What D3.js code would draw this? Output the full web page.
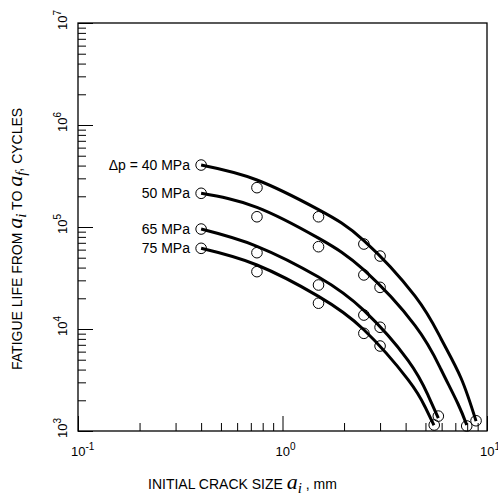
<!DOCTYPE html>
<html lang="en">
<head>
    <meta charset="UTF-8">
    <title>Fatigue life vs initial crack size</title>
    <script src="https://d3js.org/d3.v7.min.js"></script>
    <style>
        body { margin: 0; background: #fff; }
        text { font-family: "Liberation Sans", Arial, sans-serif; fill: #000; }
    </style>
</head>
<body>
    <script>
        //SVG dimensions and plot frame
        var w = 498;
        var h = 496;
        var plotLeft = 78, plotRight = 487, plotTop = 23, plotBottom = 431;

        //Test points (crack size in mm, life in cycles)
        var stressLabels = ["\u0394p = 40 MPa", "50 MPa", "65 MPa", "75 MPa"];
        var size40 = [0.4, 0.75, 1.5, 2.5, 3.0, 8.84];
        var life40 = [405000, 243000, 126000, 68100, 51900, 1260];
        var size50 = [0.4, 0.75, 1.5, 2.5, 3.0, 7.96];
        var life50 = [214000, 126000, 64100, 33900, 25600, 1120];
        var size65 = [0.4, 0.75, 1.5, 2.5, 3.0, 5.78];
        var life65 = [95500, 56000, 27000, 13700, 10400, 1400];
        var size75 = [0.4, 0.75, 1.5, 2.5, 3.0, 5.52];
        var life75 = [61800, 36500, 17900, 9070, 6810, 1145];

        //Fitted curves
        var fitSize40 = [0.4, 0.75, 1.5, 2.5, 4.45, 5.96, 7.46, 8.84];
        var fitLife40 = [405000, 289000, 148000, 73700, 21000, 8030, 3310, 1250];
        var fitSize50 = [0.4, 0.75, 1.5, 2.5, 4.45, 5.96, 7.21, 7.96];
        var fitLife50 = [214000, 156000, 77800, 37900, 10800, 4010, 1850, 1145];
        var fitSize65 = [0.4, 0.75, 1.5, 2.5, 4.11, 5.15, 5.78];
        var fitLife65 = [95500, 64700, 32300, 15200, 4930, 2240, 1340];
        var fitSize75 = [0.4, 0.75, 1.5, 2.5, 4.11, 4.98, 5.5];
        var fitLife75 = [61800, 42400, 20900, 9840, 3190, 1720, 1140];

        //Tick values
        var xDecades = [-1, 0, 1];
        var yDecades = [3, 4, 5, 6, 7];
        var minorSteps = [2, 3, 4, 5, 6, 7, 8, 9];

        var series = [
            { label: stressLabels[0], a: size40, n: life40, fa: fitSize40, fn: fitLife40 },
            { label: stressLabels[1], a: size50, n: life50, fa: fitSize50, fn: fitLife50 },
            { label: stressLabels[2], a: size65, n: life65, fa: fitSize65, fn: fitLife65 },
            { label: stressLabels[3], a: size75, n: life75, fa: fitSize75, fn: fitLife75 }
        ];

        var svg = d3.select("body")
            .append("svg")
            .attr("width", w)
            .attr("height", h);

        var xScale = d3.scaleLog().domain([0.1, 10]).range([plotLeft, plotRight]);
        var yScale = d3.scaleLog().domain([1e3, 1e7]).range([plotBottom, plotTop]);

        //minor and major tick values
        var xMinor = [], yMinor = [];
        xDecades.slice(0, -1).forEach(function(d) {
            minorSteps.forEach(function(s) { xMinor.push(s * Math.pow(10, d)); });
        });
        yDecades.slice(0, -1).forEach(function(d) {
            minorSteps.forEach(function(s) { yMinor.push(s * Math.pow(10, d)); });
        });
        var xMajor = xDecades.map(function(d) { return Math.pow(10, d); });
        var yMajor = yDecades.map(function(d) { return Math.pow(10, d); });

        //axes with inward ticks
        svg.append("g")
            .attr("transform", "translate(0," + plotBottom + ")")
            .call(d3.axisBottom(xScale).tickValues(xMinor).tickSize(-8).tickFormat(""));
        svg.append("g")
            .attr("transform", "translate(0," + plotBottom + ")")
            .call(d3.axisBottom(xScale).tickValues(xMajor).tickSize(-15).tickFormat(""));
        svg.append("g")
            .attr("transform", "translate(" + plotLeft + ",0)")
            .call(d3.axisLeft(yScale).tickValues(yMinor).tickSize(-8).tickFormat(""));
        svg.append("g")
            .attr("transform", "translate(" + plotLeft + ",0)")
            .call(d3.axisLeft(yScale).tickValues(yMajor).tickSize(-15).tickFormat(""));
        svg.selectAll(".domain").remove();
        svg.selectAll(".tick line").attr("stroke", "#000").attr("stroke-width", 1);

        //frame
        svg.append("rect")
            .attr("x", plotLeft)
            .attr("y", plotTop)
            .attr("width", plotRight - plotLeft)
            .attr("height", plotBottom - plotTop)
            .attr("fill", "none")
            .attr("stroke", "#000")
            .attr("stroke-width", 1.3);

        //x tick labels 10^n
        var xl = svg.selectAll(".xlab")
            .data(xDecades)
            .enter()
            .append("text")
            .attr("x", function(d) { return xScale(Math.pow(10, d)) - 7; })
            .attr("y", 456)
            .style("font-size", "13px");
        xl.append("tspan").text("10");
        xl.append("tspan")
            .attr("dy", -6)
            .style("font-size", "10px")
            .text(function(d) { return d; });

        //y tick labels, rotated
        var yl = svg.selectAll(".ylab")
            .data(yDecades)
            .enter()
            .append("text")
            .attr("transform", function(d) { return "translate(67," + yScale(Math.pow(10, d)) + ") rotate(-90)"; })
            .attr("x", -7)
            .style("font-size", "13px");
        yl.append("tspan").text("10");
        yl.append("tspan")
            .attr("dy", -6)
            .style("font-size", "10px")
            .text(function(d) { return d; });

        //fitted curves
        var line = d3.line()
            .x(function(d) { return xScale(d[0]); })
            .y(function(d) { return yScale(d[1]); })
            .curve(d3.curveNatural);

        svg.selectAll(".fit")
            .data(series)
            .enter()
            .append("path")
            .attr("d", function(s) { return line(s.fa.map(function(a, i) { return [a, s.fn[i]]; })); })
            .attr("fill", "none")
            .attr("stroke", "#000")
            .attr("stroke-width", 3);

        //open circles for test points
        series.forEach(function(s) {
            svg.selectAll(null)
                .data(s.a)
                .enter()
                .append("circle")
                .attr("cx", function(d) { return xScale(d); })
                .attr("cy", function(d, i) { return yScale(s.n[i]); })
                .attr("r", 5.3)
                .attr("fill", "none")
                .attr("stroke", "#000")
                .attr("stroke-width", 1);
        });

        //stress range labels
        svg.selectAll(".slab")
            .data(series)
            .enter()
            .append("text")
            .attr("x", 190)
            .attr("y", function(s) { return yScale(s.n[0]) + 5; })
            .attr("text-anchor", "end")
            .style("font-size", "14px")
            .text(function(s) { return s.label; });

        //x axis title
        var xt = svg.append("text")
            .attr("x", 148)
            .attr("y", 489)
            .style("font-size", "14px");
        xt.append("tspan").text("INITIAL CRACK SIZE   ");
        xt.append("tspan").style("font-family", "'Liberation Serif', serif").style("font-style", "italic").style("font-size", "22px").text("a");
        xt.append("tspan").attr("dy", 4).style("font-family", "'Liberation Serif', serif").style("font-style", "italic").style("font-size", "15px").text("i");
        xt.append("tspan").attr("dy", -4).text(" , mm");

        //y axis title
        var yt = svg.append("text")
            .attr("transform", "translate(22,370) rotate(-90)")
            .style("font-size", "14px");
        yt.append("tspan").text("FATIGUE LIFE FROM ");
        yt.append("tspan").style("font-family", "'Liberation Serif', serif").style("font-style", "italic").style("font-size", "22px").text("a");
        yt.append("tspan").attr("dy", 4).style("font-family", "'Liberation Serif', serif").style("font-style", "italic").style("font-size", "15px").text("i");
        yt.append("tspan").attr("dy", -4).text(" TO ");
        yt.append("tspan").style("font-family", "'Liberation Serif', serif").style("font-style", "italic").style("font-size", "22px").text("a");
        yt.append("tspan").attr("dy", 4).style("font-family", "'Liberation Serif', serif").style("font-style", "italic").style("font-size", "15px").text("f");
        yt.append("tspan").attr("dy", -4).text(", CYCLES");
    </script>
</body>
</html>
